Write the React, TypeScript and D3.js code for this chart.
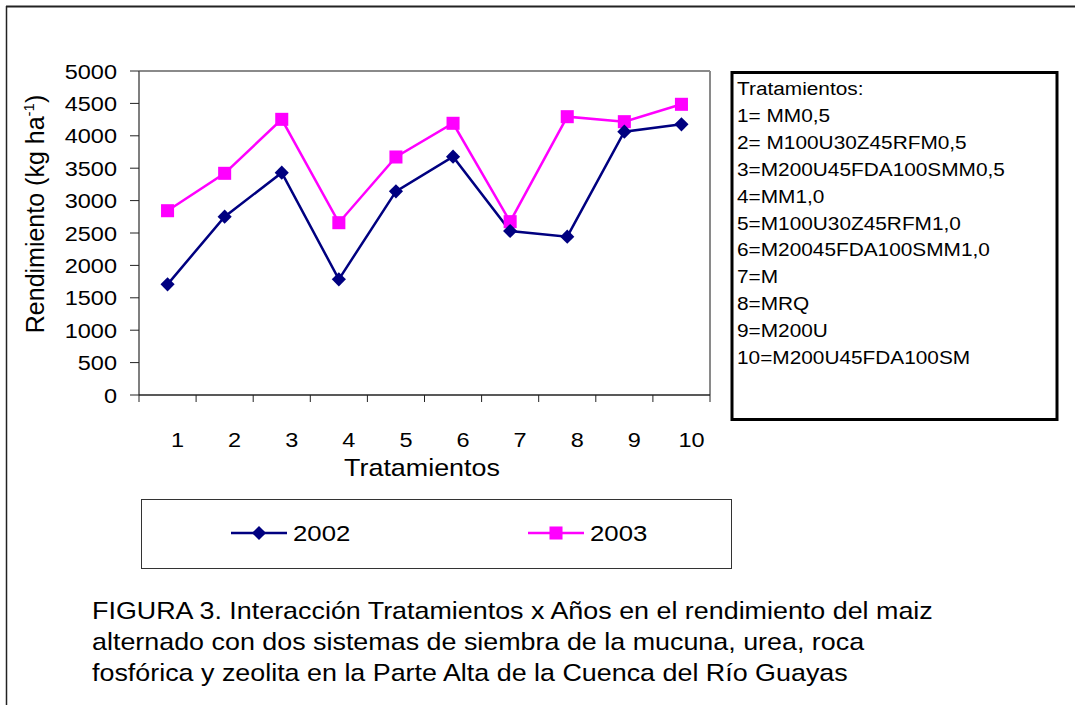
import React from 'react';
import { scaleLinear, line, symbol, symbolSquare } from 'd3';

const categories = ['1', '2', '3', '4', '5', '6', '7', '8', '9', '10'];
const yield2002 = [1708, 2752, 3431, 1785, 3143, 3678, 2531, 2443, 4064, 4177];
const yield2003 = [2844, 3421, 4254, 2659, 3673, 4193, 2675, 4295, 4218, 4486];
const yTicks = [0, 500, 1000, 1500, 2000, 2500, 3000, 3500, 4000, 4500, 5000];
const treatments = [
  'Tratamientos:',
  '1= MM0,5',
  '2= M100U30Z45RFM0,5',
  '3=M200U45FDA100SMM0,5',
  '4=MM1,0',
  '5=M100U30Z45RFM1,0',
  '6=M20045FDA100SMM1,0',
  '7=M',
  '8=MRQ',
  '9=M200U',
  '10=M200U45FDA100SM',
];
const caption = [
  'FIGURA 3. Interacción Tratamientos x Años en el rendimiento del maiz',
  'alternado con dos sistemas de siembra de la mucuna, urea, roca',
  'fosfórica y zeolita en la Parte Alta de la Cuenca del Río Guayas',
];

const font = 'Liberation Sans, Arial, sans-serif';
const sx = 1.12; // the original picture is a bit wider than tall

type TProps = { x: number; y: number; size: number; anchor?: string; children: React.ReactNode };
const T: React.FC<TProps> = ({ x, y, size, anchor = 'start', children }) => (
  <text transform={`translate(${x},${y}) scale(${sx},1)`} textAnchor={anchor} fontFamily={font} fontSize={size} fill="#000">
    {children}
  </text>
);

const App: React.FC = () => {
  const width = 1075;
  const height = 705;
  const left = 139, right = 710, top = 71, bottom = 395;

  const band = (right - left) / categories.length;
  const x = (i: number) => left + band * (i + 0.5);
  const y = scaleLinear().domain([0, 5000]).range([bottom, top]);

  const pathGen = line<number>().x((_, i) => x(i)).y(d => y(d));
  // diamond = square turned 45deg, like the spreadsheet marker
  const diamond = symbol().type(symbolSquare).size(100)();
  const square = symbol().type(symbolSquare).size(170)();

  return (
    <svg width={width} height={height} style={{ position: 'absolute', left: 0, top: 0, background: '#fff' }}>
      <rect x={0} y={0} width={width} height={height} fill="#fff" />
      {/* outer frame */}
      <line x1={6} y1={6.5} x2={width} y2={6.5} stroke="#222" strokeWidth={2} />
      <line x1={6.5} y1={6} x2={6.5} y2={height} stroke="#222" strokeWidth={1.5} />

      {/* plot area border */}
      <line x1={left} y1={top} x2={right} y2={top} stroke="#8a8a8a" strokeWidth={2} />
      <line x1={right} y1={top} x2={right} y2={bottom} stroke="#8a8a8a" strokeWidth={2} />
      <line x1={left} y1={top} x2={left} y2={bottom} stroke="#555" strokeWidth={1.5} />
      <line x1={left} y1={bottom} x2={right} y2={bottom} stroke="#222" strokeWidth={1.5} />

      {/* y axis */}
      {yTicks.map(t => (
        <g key={t}>
          <line x1={left - 9} x2={left} y1={y(t)} y2={y(t)} stroke="#222" strokeWidth={1} />
          <T x={left - 22} y={y(t) + 7.5} size={21} anchor="end">{t}</T>
        </g>
      ))}
      <text transform={`translate(44,214) rotate(-90)`} textAnchor="middle" fontFamily={font} fontSize={25} fill="#000">
        Rendimiento (kg ha<tspan dy={-10} fontSize={15}>-1</tspan><tspan dy={10}>)</tspan>
      </text>

      {/* x axis */}
      {categories.concat(['']).map((_, i) => (
        <line key={i} x1={left + band * i} x2={left + band * i} y1={bottom} y2={bottom + 7} stroke="#222" strokeWidth={1} />
      ))}
      {categories.map((c, i) => (
        <T key={c} x={x(i) + 10} y={447} size={21} anchor="middle">{c}</T>
      ))}
      <T x={422} y={476} size={24} anchor="middle">Tratamientos</T>

      {/* series */}
      <path d={pathGen(yield2002) || ''} fill="none" stroke="#000080" strokeWidth={2.5} />
      <path d={pathGen(yield2003) || ''} fill="none" stroke="#ff00ff" strokeWidth={2.5} />
      {yield2003.map((v, i) => (
        <path key={'s' + i} d={square || ''} transform={`translate(${x(i)},${y(v)})`} fill="#ff00ff" />
      ))}
      {yield2002.map((v, i) => (
        <path key={'d' + i} d={diamond || ''} transform={`translate(${x(i)},${y(v)}) rotate(45)`} fill="#000080" />
      ))}

      {/* treatments box */}
      <rect x={732} y={72.5} width={325} height={347} fill="#fff" stroke="#000" strokeWidth={3} />
      {treatments.map((t, i) => (
        <T key={t} x={737} y={95 + i * 26.9} size={18.6}>{t}</T>
      ))}

      {/* legend */}
      <rect x={141.5} y={499.5} width={590} height={69} fill="#fff" stroke="#333" strokeWidth={1} />
      <line x1={231} x2={287} y1={533} y2={533} stroke="#000080" strokeWidth={2.5} />
      <path d={diamond || ''} transform="translate(259,533) rotate(45)" fill="#000080" />
      <T x={293} y={541} size={23}>2002</T>
      <line x1={528} x2={584} y1={533} y2={533} stroke="#ff00ff" strokeWidth={2.5} />
      <path d={square || ''} transform="translate(556,533)" fill="#ff00ff" />
      <T x={590} y={541} size={23}>2003</T>

      {/* caption */}
      {caption.map((c, i) => (
        <T key={i} x={92} y={619 + i * 31} size={24}>{c}</T>
      ))}
    </svg>
  );
};

export default App;
